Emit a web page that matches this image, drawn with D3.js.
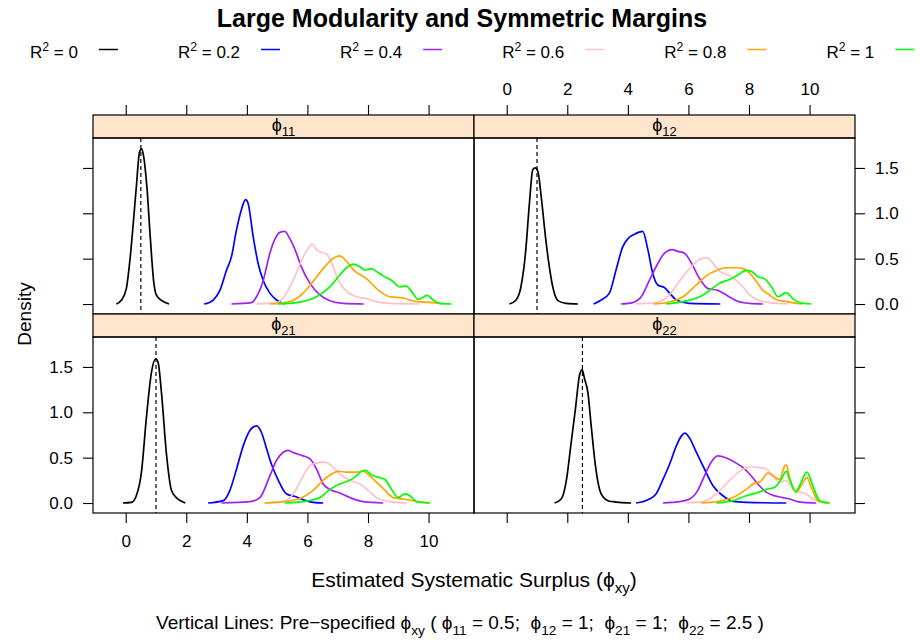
<!DOCTYPE html>
<html>
<head>
<meta charset="utf-8">
<script src="https://cdn.jsdelivr.net/npm/d3@7"></script>
<style>
  body { margin: 0; background: #fff; }
  svg { font-family: "Liberation Sans", Arial, sans-serif; }
</style>
</head>
<body>
<div id="chart"></div>
<script>
// series labels and colours
const r2Labels = ["0", "0.2", "0.4", "0.6", "0.8", "1"];
const r2Colors = ["#000000", "#0000FF", "#A020F0", "#FFC0CB", "#FFA500", "#00FF00"];

// panels
const panelNames = ["11", "12", "21", "22"];
const refValues = [0.5, 1, 1, 2.5];

const xTicks = [0, 2, 4, 6, 8, 10];
const yTicks = [0, 0.5, 1, 1.5];
const yTickLabels = ["0.0", "0.5", "1.0", "1.5"];

// density curves, [x, density]
// phi 11
const p11_r0 = [[-0.31,0],[-0.14,0.044],[0.02,0.17],[0.15,0.52],[0.26,0.93],[0.35,1.29],[0.46,1.68],[0.53,1.71],[0.59,1.63],[0.70,1.29],[0.81,0.74],[0.93,0.23],[1.01,0.10],[1.18,0.04],[1.43,0]];
const p11_r2 = [[2.59,0],[2.89,0.044],[3.11,0.15],[3.33,0.375],[3.49,0.52],[3.66,0.82],[3.82,1.04],[3.96,1.15],[4.04,1.11],[4.21,0.74],[4.37,0.45],[4.54,0.26],[4.76,0.12],[4.98,0.044],[5.25,0]];
const p11_r4 = [[3.49,0],[4.15,0.015],[4.32,0.08],[4.54,0.26],[4.76,0.56],[4.92,0.71],[5.09,0.79],[5.25,0.80],[5.42,0.72],[5.59,0.60],[5.80,0.41],[6.08,0.23],[6.41,0.10],[6.74,0.037],[7.18,0.007],[7.86,0]];
const p11_r6 = [[4.32,0],[4.98,0.015],[5.31,0.12],[5.58,0.30],[5.86,0.52],[6.02,0.61],[6.17,0.66],[6.30,0.60],[6.46,0.57],[6.63,0.55],[6.80,0.45],[7.02,0.26],[7.29,0.14],[7.62,0.08],[7.95,0.06],[8.28,0.026],[8.72,0.007],[9.71,0]];
const p11_r8 = [[4.76,0],[5.42,0.026],[5.86,0.12],[6.19,0.25],[6.52,0.39],[6.80,0.49],[7.07,0.53],[7.24,0.49],[7.51,0.38],[7.95,0.28],[8.39,0.14],[8.72,0.08],[9.16,0.066],[9.60,0.026],[10.15,0.015],[10.48,0]];
const p11_r10 = [[5.03,0],[5.64,0.015],[6.30,0.08],[6.74,0.19],[7.07,0.32],[7.29,0.40],[7.51,0.44],[7.73,0.41],[7.90,0.375],[8.11,0.39],[8.28,0.36],[8.50,0.31],[8.78,0.26],[9.05,0.19],[9.25,0.20],[9.44,0.14],[9.66,0.05],[9.96,0.096],[10.15,0.044],[10.37,0.007],[10.76,0]];
// phi 12
const p12_r0 = [[0.09,0],[0.31,0.044],[0.47,0.19],[0.62,0.56],[0.75,1.11],[0.86,1.48],[0.94,1.50],[1.03,1.46],[1.14,1.18],[1.28,0.74],[1.39,0.45],[1.52,0.19],[1.69,0.037],[1.96,0.007],[2.35,0]];
const p12_r2 = [[2.87,0],[3.12,0.044],[3.39,0.12],[3.61,0.375],[3.83,0.63],[4.00,0.72],[4.22,0.77],[4.49,0.80],[4.66,0.60],[4.82,0.34],[4.99,0.21],[5.21,0.18],[5.38,0.12],[5.60,0.044],[6.04,0.007],[7.05,0]];
const p12_r4 = [[3.78,0],[4.16,0.015],[4.44,0.08],[4.71,0.26],[4.93,0.41],[5.21,0.56],[5.46,0.60],[5.65,0.58],[5.87,0.56],[6.10,0.45],[6.37,0.28],[6.65,0.17],[6.97,0.15],[7.25,0.10],[7.58,0.037],[8.02,0.007],[8.46,0]];
const p12_r6 = [[4.27,0],[4.93,0.015],[5.37,0.10],[5.70,0.25],[6.04,0.39],[6.37,0.49],[6.61,0.51],[6.81,0.45],[7.03,0.36],[7.30,0.32],[7.58,0.26],[7.80,0.19],[8.02,0.10],[8.35,0.037],[8.68,0.015],[9.29,0]];
const p12_r8 = [[4.85,0],[5.38,0.022],[5.82,0.08],[6.26,0.21],[6.59,0.31],[6.92,0.37],[7.25,0.40],[7.58,0.40],[7.80,0.39],[8.02,0.34],[8.24,0.25],[8.46,0.15],[8.68,0.10],[8.90,0.05],[9.23,0.026],[9.56,0.007],[9.78,0]];
const p12_r10 = [[5.27,0],[5.82,0.026],[6.37,0.08],[6.70,0.15],[7.03,0.23],[7.36,0.27],[7.63,0.32],[7.91,0.37],[8.08,0.36],[8.30,0.30],[8.51,0.28],[8.74,0.19],[8.96,0.08],[9.23,0.125],[9.45,0.06],[9.67,0.015],[10.06,0]];
// phi 21
const p21_r0 = [[-0.09,0],[0.19,0.007],[0.35,0.08],[0.52,0.34],[0.68,0.93],[0.85,1.44],[0.99,1.59],[1.07,1.55],[1.18,1.22],[1.34,0.56],[1.51,0.14],[1.67,0.06],[1.81,0.026],[1.97,0]];
const p21_r2 = [[2.72,0],[3.22,0.026],[3.44,0.14],[3.66,0.375],[3.88,0.63],[4.10,0.80],[4.32,0.85],[4.48,0.78],[4.65,0.60],[4.81,0.43],[5.04,0.25],[5.31,0.10],[5.58,0.074],[5.86,0.037],[6.19,0.007],[6.52,0]];
const p21_r4 = [[3.16,0],[4.10,0.015],[4.43,0.06],[4.76,0.30],[4.98,0.47],[5.20,0.56],[5.36,0.58],[5.58,0.55],[5.86,0.52],[6.08,0.49],[6.30,0.375],[6.52,0.21],[6.80,0.14],[7.07,0.11],[7.40,0.06],[7.84,0.015],[8.50,0]];
const p21_r6 = [[4.59,0],[5.20,0.015],[5.53,0.10],[5.80,0.26],[6.08,0.41],[6.30,0.44],[6.57,0.45],[6.80,0.41],[7.07,0.32],[7.40,0.25],[7.73,0.21],[8.01,0.14],[8.28,0.06],[8.72,0.015],[9.27,0]];
const p21_r8 = [[4.59,0],[5.20,0.015],[5.75,0.05],[6.19,0.14],[6.52,0.25],[6.80,0.32],[7.02,0.35],[7.29,0.34],[7.62,0.34],[7.84,0.35],[8.06,0.30],[8.28,0.23],[8.56,0.14],[8.83,0.06],[9.16,0.044],[9.49,0.026],[9.82,0.007],[10.04,0]];
const p21_r10 = [[5.25,0],[5.86,0.015],[6.41,0.06],[6.74,0.15],[7.07,0.21],[7.40,0.25],[7.62,0.30],[7.79,0.35],[7.93,0.36],[8.11,0.31],[8.39,0.28],[8.56,0.26],[8.78,0.15],[9.00,0.06],[9.22,0.10],[9.38,0.08],[9.60,0.015],[10.04,0]];
// phi 22
const p22_r0 = [[1.58,0],[1.80,0.044],[1.96,0.23],[2.13,0.67],[2.27,1.04],[2.40,1.40],[2.49,1.47],[2.57,1.37],[2.68,1.22],[2.79,0.85],[2.93,0.41],[3.12,0.10],[3.34,0.026],[3.50,0.015],[3.72,0.007],[4.11,0]];
const p22_r2 = [[4.27,0],[4.71,0.044],[4.93,0.10],[5.16,0.26],[5.38,0.43],[5.60,0.63],[5.77,0.74],[5.88,0.77],[6.05,0.71],[6.26,0.56],[6.53,0.375],[6.81,0.19],[7.14,0.08],[7.47,0.018],[7.91,0.007],[9.23,0]];
const p22_r4 = [[5.16,0],[5.70,0.015],[6.04,0.044],[6.31,0.14],[6.53,0.30],[6.75,0.45],[6.97,0.52],[7.14,0.51],[7.36,0.48],[7.58,0.44],[7.80,0.39],[8.02,0.32],[8.29,0.21],[8.57,0.12],[8.84,0.08],[9.12,0.06],[9.34,0.044],[9.62,0.015],[9.78,0.007],[10.22,0]];
const p22_r6 = [[5.93,0],[6.48,0.015],[6.92,0.10],[7.36,0.25],[7.74,0.36],[8.07,0.40],[8.35,0.39],[8.57,0.375],[8.79,0.30],[9.01,0.23],[9.23,0.25],[9.45,0.15],[9.67,0.12],[9.89,0.10],[10.11,0.044],[10.55,0]];
const p22_r8 = [[6.42,0],[6.92,0.015],[7.47,0.06],[7.91,0.15],[8.19,0.22],[8.35,0.23],[8.63,0.33],[8.79,0.30],[9.01,0.26],[9.18,0.41],[9.23,0.42],[9.34,0.28],[9.56,0.12],[9.72,0.19],[9.91,0.28],[10.06,0.17],[10.28,0.026],[10.66,0]];
const p22_r10 = [[6.92,0],[7.47,0.026],[7.91,0.08],[8.24,0.11],[8.57,0.15],[8.84,0.17],[9.06,0.26],[9.23,0.35],[9.34,0.26],[9.54,0.125],[9.67,0.19],[9.91,0.34],[10.11,0.19],[10.33,0.026],[10.66,0]];

const panelCurves = [
  [p11_r0, p11_r2, p11_r4, p11_r6, p11_r8, p11_r10],
  [p12_r0, p12_r2, p12_r4, p12_r6, p12_r8, p12_r10],
  [p21_r0, p21_r2, p21_r4, p21_r6, p21_r8, p21_r10],
  [p22_r0, p22_r2, p22_r4, p22_r6, p22_r8, p22_r10]
];

const W = 920, H = 643;
const colX = [93, 474, 855];
const stripH = 23;
const rowTop = [115, 314];
const panelH = 176;
const tickFont = 17;

const svg = d3.select("#chart").append("svg")
  .attr("width", W).attr("height", H);

// helper: text with sub / superscripts (the shift is undone on the next piece)
function richText(g, parts, size) {
  const t = g.append("text").attr("font-size", size);
  let back = 0;
  parts.forEach(p => {
    if (p.sub) {
      t.append("tspan").attr("font-size", size * 0.72).attr("dy", back + size * 0.3).text(p.sub);
      back = -size * 0.3;
    } else if (p.sup) {
      t.append("tspan").attr("font-size", size * 0.72).attr("dy", back - size * 0.4).text(p.sup);
      back = size * 0.4;
    } else {
      t.append("tspan").attr("dy", back).text(p.t);
      back = 0;
    }
  });
  return t;
}

// title
svg.append("text")
  .attr("x", 462).attr("y", 27)
  .attr("text-anchor", "middle")
  .attr("font-size", 25).attr("font-weight", "bold")
  .text("Large Modularity and Symmetric Margins");

// legend
let cursor = 30;
r2Labels.forEach((lab, i) => {
  const g = svg.append("g");
  const t = richText(g, [{t: "R"}, {sup: "2"}, {t: " = " + lab}], 17)
    .attr("x", cursor).attr("y", 58);
  const w = t.node().getComputedTextLength();
  const lx = cursor + w + 21;
  g.append("line")
    .attr("x1", lx).attr("x2", lx + 19)
    .attr("y1", 49.5).attr("y2", 49.5)
    .attr("stroke", r2Colors[i]).attr("stroke-width", 1.5);
  cursor = lx + 19 + 60;
});

const x = d3.scaleLinear().domain([-1.08, 11.5]);
const y = d3.scaleLinear().domain([-0.11, 1.83]);

const line = d3.line().curve(d3.curveMonotoneX);

function styleAxis(ax, showLabels) {
  ax.select(".domain").remove();
  if (!showLabels) ax.selectAll("text").remove();
  ax.selectAll("text").attr("font-size", tickFont)
    .attr("font-family", "Liberation Sans, Arial, sans-serif");
  ax.selectAll("line").attr("stroke-width", 1.1);
}

panelNames.forEach((name, k) => {
  const col = k % 2, row = Math.floor(k / 2);
  const x0 = colX[col], x1 = colX[col + 1];
  const sTop = rowTop[row];
  const pTop = sTop + stripH, pBot = pTop + panelH;
  const xs = x.copy().range([x0, x1]);
  const ys = y.copy().range([pBot, pTop]);
  const g = svg.append("g");

  // strip
  g.append("rect")
    .attr("x", x0).attr("y", sTop).attr("width", x1 - x0).attr("height", stripH)
    .attr("fill", "#FFE5CC").attr("stroke", "#000").attr("stroke-width", 1.2);
  richText(g, [{t: "\u03D5"}, {sub: name}], 18)
    .attr("x", (x0 + x1) / 2).attr("y", sTop + 16)
    .attr("text-anchor", "middle");

  // panel box
  g.append("rect")
    .attr("x", x0).attr("y", pTop).attr("width", x1 - x0).attr("height", panelH)
    .attr("fill", "none").attr("stroke", "#000").attr("stroke-width", 1.2);

  // curves
  panelCurves[k].forEach((pts, i) => {
    g.append("path")
      .attr("d", line(pts.map(d => [xs(d[0]), ys(d[1])])))
      .attr("fill", "none")
      .attr("stroke", r2Colors[i])
      .attr("stroke-width", 1.7);
  });

  // reference line
  g.append("line")
    .attr("x1", xs(refValues[k])).attr("x2", xs(refValues[k]))
    .attr("y1", pTop).attr("y2", pBot)
    .attr("stroke", "#000").attr("stroke-width", 1.2)
    .attr("stroke-dasharray", "4,3");

  // axes (alternating labels like lattice)
  if (row === 0) {
    const ax = g.append("g").attr("transform", `translate(0,${sTop})`)
      .call(d3.axisTop(xs).tickValues(xTicks).tickSize(10).tickPadding(10).tickFormat(d3.format("d")));
    styleAxis(ax, col === 1);
  } else {
    const ax = g.append("g").attr("transform", `translate(0,${pBot})`)
      .call(d3.axisBottom(xs).tickValues(xTicks).tickSize(10).tickPadding(12).tickFormat(d3.format("d")));
    styleAxis(ax, col === 0);
  }
  if (col === 0) {
    const ay = g.append("g").attr("transform", `translate(${x0},0)`)
      .call(d3.axisLeft(ys).tickValues(yTicks).tickSize(10).tickPadding(10)
        .tickFormat((d, i) => yTickLabels[i]));
    styleAxis(ay, row === 1);
  } else {
    const ay = g.append("g").attr("transform", `translate(${x1},0)`)
      .call(d3.axisRight(ys).tickValues(yTicks).tickSize(10).tickPadding(10)
        .tickFormat((d, i) => yTickLabels[i]));
    styleAxis(ay, row === 0);
  }
});

// axis labels
svg.append("text")
  .attr("transform", "translate(31,314) rotate(-90)")
  .attr("text-anchor", "middle").attr("font-size", 19)
  .text("Density");

richText(svg, [{t: "Estimated Systematic Surplus ("}, {t: "\u03D5"}, {sub: "xy"}, {t: ")"}], 21)
  .attr("x", 474).attr("y", 587).attr("text-anchor", "middle");

richText(svg, [
  {t: "Vertical Lines: Pre\u2212specified \u03D5"}, {sub: "xy"},
  {t: " ( \u03D5"}, {sub: "11"}, {t: " = 0.5;  \u03D5"}, {sub: "12"},
  {t: " = 1;  \u03D5"}, {sub: "21"}, {t: " = 1;  \u03D5"}, {sub: "22"}, {t: " = 2.5 )"}
], 19).attr("x", 460).attr("y", 629).attr("text-anchor", "middle")
  .style("white-space", "pre");
</script>
</body>
</html>
